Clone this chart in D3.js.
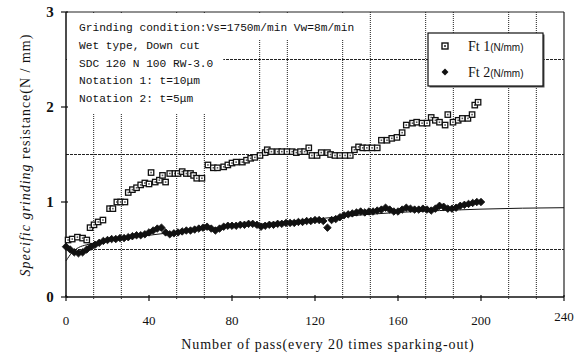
<!DOCTYPE html>
<html>
<head>
<meta charset="utf-8">
<script src="https://cdn.jsdelivr.net/npm/d3@7/dist/d3.min.js"></script>
<style>
  body { margin: 0; background: #fff; }
  svg { display: block; }
  .tick-label { font-family: "Liberation Serif", "DejaVu Serif", serif; fill: #111; }
  .note { font-family: "Liberation Mono", "DejaVu Sans Mono", monospace; font-size: 11.2px; fill: #111; }
</style>
</head>
<body>
<div id="chart"></div>
<script>
// Ft1 (squares) - pass number and resistance
const ft1Pass = [1, 3, 5.5, 8, 10, 11.6, 13.5, 15.5, 17.8, 21, 22.6, 24.5, 26.3, 28.4,
  30, 32, 34, 36, 38, 40, 41, 43, 45, 46.5, 48, 50, 52.5, 54, 56, 58, 60, 61.5, 63, 65.5,
  68.4, 71, 73, 76, 78, 80, 82, 85, 87, 89, 91, 93.5, 96, 97,
  99, 102, 104, 106.5, 109, 111, 113, 115, 117, 118.5, 121, 123, 126, 127.5, 129.6, 132, 134.5, 137, 139, 141, 143,
  145, 147.5, 150, 152, 154.7, 157, 159.5, 162, 164, 167, 169, 171.6, 174, 176, 178, 180, 182.7, 184, 186.5,
  189, 191, 193.7, 195.7, 197, 198.6];
const ft1Val = [0.60, 0.61, 0.63, 0.62, 0.60, 0.73, 0.76, 0.79, 0.81, 0.93, 0.93, 1.00, 1.00, 1.00,
  1.10, 1.13, 1.15, 1.18, 1.20, 1.19, 1.31, 1.21, 1.23, 1.28, 1.21, 1.30, 1.30, 1.30, 1.32, 1.30, 1.30, 1.28, 1.25, 1.25,
  1.39, 1.36, 1.36, 1.37, 1.39, 1.41, 1.42, 1.42, 1.44, 1.46, 1.47, 1.49, 1.52, 1.55,
  1.53, 1.53, 1.53, 1.53, 1.53, 1.52, 1.53, 1.53, 1.57, 1.49, 1.49, 1.52, 1.52, 1.50, 1.49, 1.49, 1.49, 1.49, 1.55, 1.58, 1.57,
  1.57, 1.57, 1.57, 1.65, 1.65, 1.67, 1.68, 1.73, 1.81, 1.83, 1.84, 1.83, 1.83, 1.89, 1.86, 1.84, 1.81, 1.92, 1.84,
  1.86, 1.88, 1.88, 1.92, 2.02, 2.05];

// Ft2 (diamonds) - every 2 passes from 0 to 200
const ft2Pass = d3.range(0, 201, 2);
const ft2Val = [0.53, 0.50, 0.47, 0.46, 0.47, 0.50, 0.53, 0.55, 0.57, 0.59,
  0.60, 0.61, 0.61, 0.62, 0.62, 0.63, 0.64, 0.65, 0.65, 0.66,
  0.68, 0.70, 0.72, 0.73, 0.68, 0.66, 0.67, 0.68, 0.69, 0.70,
  0.70, 0.71, 0.72, 0.73, 0.74, 0.72, 0.70, 0.72, 0.74, 0.75,
  0.75, 0.75, 0.76, 0.76, 0.77, 0.77, 0.76, 0.74, 0.75, 0.76,
  0.76, 0.77, 0.77, 0.78, 0.78, 0.78, 0.79, 0.79, 0.80, 0.80,
  0.81, 0.81, 0.80, 0.73, 0.81, 0.82, 0.84, 0.86, 0.87, 0.88,
  0.89, 0.90, 0.89, 0.90, 0.90, 0.91, 0.92, 0.94, 0.92, 0.90,
  0.90, 0.92, 0.94, 0.93, 0.92, 0.92, 0.93, 0.92, 0.91, 0.93,
  0.96, 0.95, 0.93, 0.93, 0.94, 0.96, 0.97, 0.98, 0.99, 1.00, 1.00];

// thin fitted curve
const trendPass = [0, 3, 6, 10, 20, 40, 60, 80, 100, 120, 140, 160, 180, 200, 220, 240];
const trendVal = [0.38, 0.47, 0.52, 0.55, 0.59, 0.65, 0.70, 0.74, 0.78, 0.82, 0.86, 0.89, 0.91, 0.925, 0.935, 0.94];

const xTicks = [0, 40, 80, 120, 160, 200, 240];
const yTicks = [0, 1, 2, 3];
const xGrid = [13.33, 26.67, 53.33, 66.67, 93.33, 106.67, 133.33, 146.67, 173.33, 186.67, 213.33, 226.67];
const yGrid = [0.5, 1.5, 2.5];

const noteLines = ['Grinding condition:Vs=1750m/min Vw=8m/min', 'Wet type, Down cut',
  'SDC 120 N 100 RW-3.0', 'Notation 1: t=10μm', 'Notation 2: t=5μm'];

const W = 587, H = 357;
const margin = {top: 12, right: 23, bottom: 60, left: 66},
  width = W - margin.left - margin.right,
  height = H - margin.top - margin.bottom;

const svg = d3.select('#chart').append('svg')
  .attr('width', W).attr('height', H);

const g = svg.append('g')
  .attr('transform', 'translate(' + margin.left + ',' + margin.top + ')');

const x = d3.scaleLinear().domain([0, 240]).range([0, width]);
const y = d3.scaleLinear().domain([0, 3]).range([height, 0]);

// grid lines
g.selectAll('.vgrid').data(xGrid).enter().append('line')
  .attr('x1', d => x(d)).attr('x2', d => x(d))
  .attr('y1', 0).attr('y2', height + 3)
  .attr('stroke', '#222').attr('stroke-width', 1)
  .attr('stroke-dasharray', '1,1');

g.selectAll('.hgrid').data(yGrid).enter().append('line')
  .attr('x1', 0).attr('x2', width)
  .attr('y1', d => y(d)).attr('y2', d => y(d))
  .attr('stroke', '#222').attr('stroke-width', 1)
  .attr('stroke-dasharray', '3,1');

// frame
g.append('line').attr('x1', 0).attr('x2', width).attr('y1', 0).attr('y2', 0)
  .attr('stroke', '#222').attr('stroke-width', 1.2);
g.append('line').attr('x1', width).attr('x2', width).attr('y1', 0).attr('y2', height)
  .attr('stroke', '#222').attr('stroke-width', 1.2);

// text box, white background knocks out the grid
const notes = g.append('g').attr('transform', 'translate(13,19)');
const noteText = notes.selectAll('text').data(noteLines).enter().append('text')
  .attr('class', 'note')
  .attr('y', (d, i) => i * 17.8)
  .text(d => d);
const lens = [];
noteText.each(function () { lens.push(this.getComputedTextLength()); });
notes.insert('rect', 'text')
  .attr('x', -12).attr('y', -18).attr('width', lens[0] + 20).attr('height', 27)
  .attr('fill', '#fff');
notes.insert('rect', 'text')
  .attr('x', -12).attr('y', 8).attr('width', d3.max(lens.slice(1)) + 22).attr('height', 75)
  .attr('fill', '#fff');

// axes
const xAxis = g.append('g').attr('transform', 'translate(0,' + height + ')');
xAxis.append('line').attr('x1', 0).attr('x2', width).attr('stroke', '#111').attr('stroke-width', 1.5);
xAxis.selectAll('.tk').data(xTicks).enter().append('line')
  .attr('x1', d => x(d)).attr('x2', d => x(d)).attr('y1', -2).attr('y2', 4)
  .attr('stroke', '#111').attr('stroke-width', 1.2);
xAxis.selectAll('.lbl').data(xTicks).enter().append('text')
  .attr('class', 'tick-label')
  .attr('x', d => x(d)).attr('y', d => d === 240 ? 24 : 28)
  .attr('text-anchor', 'middle').attr('font-size', '13px')
  .text(d => d);

const yAxis = g.append('g');
yAxis.append('line').attr('y1', 0).attr('y2', height).attr('stroke', '#111').attr('stroke-width', 1.5);
yAxis.selectAll('.tk').data(yTicks).enter().append('line')
  .attr('y1', d => y(d)).attr('y2', d => y(d)).attr('x1', -5).attr('x2', 2)
  .attr('stroke', '#111').attr('stroke-width', 1.2);
yAxis.selectAll('.lbl').data(yTicks).enter().append('text')
  .attr('class', 'tick-label')
  .attr('x', -16).attr('y', d => y(d) + 5)
  .attr('text-anchor', 'middle').attr('font-size', '15px').attr('font-weight', 'bold')
  .text(d => d);

// fitted curve
g.append('path')
  .datum(trendPass.map((p, i) => [p, trendVal[i]]))
  .attr('fill', 'none').attr('stroke', '#111').attr('stroke-width', 1)
  .attr('d', d3.line().x(d => x(d[0])).y(d => y(d[1])).curve(d3.curveMonotoneX));

// Ft2 diamonds
const diamond = d3.symbol().type(d3.symbolSquare).size(28);
g.selectAll('.ft2').data(ft2Pass.map((p, i) => [p, ft2Val[i]])).enter().append('path')
  .attr('d', diamond)
  .attr('transform', d => 'translate(' + x(d[0]) + ',' + y(d[1]) + ') rotate(45)')
  .attr('fill', '#111').attr('stroke', '#111').attr('stroke-width', 0.8);

// Ft1 squares
const sq = g.selectAll('.ft1').data(ft1Pass.map((p, i) => [p, ft1Val[i]])).enter().append('g')
  .attr('transform', d => 'translate(' + x(d[0]) + ',' + y(d[1]) + ')');
sq.append('rect').attr('x', -2.7).attr('y', -2.7).attr('width', 5.4).attr('height', 5.4)
  .attr('fill', '#fff').attr('stroke', '#111').attr('stroke-width', 1.3);
sq.append('rect').attr('x', -0.8).attr('y', -0.8).attr('width', 1.6).attr('height', 1.6)
  .attr('fill', '#555');

// legend
const legend = svg.append('g').attr('transform', 'translate(428,33)');
legend.append('rect').attr('x', 1.5).attr('y', 1.5).attr('width', 115).attr('height', 53).attr('fill', '#555');
legend.append('rect').attr('width', 115).attr('height', 53)
  .attr('fill', '#fff').attr('stroke', '#111').attr('stroke-width', 1.2);
legend.append('rect').attr('x', 14).attr('y', 10).attr('width', 6).attr('height', 6)
  .attr('fill', '#fff').attr('stroke', '#111').attr('stroke-width', 1.4);
legend.append('rect').attr('x', 16).attr('y', 12).attr('width', 2).attr('height', 2).attr('fill', '#555');
legend.append('path').attr('d', d3.symbol().type(d3.symbolSquare).size(24))
  .attr('transform', 'translate(17,39) rotate(45)').attr('fill', '#111');
const legLabels = ['Ft 1', 'Ft 2'];
legLabels.forEach((t, i) => {
  const tx = legend.append('text').attr('x', 40).attr('y', 18 + i * 26)
    .attr('font-family', '"Liberation Serif", serif').attr('font-size', '14px').attr('fill', '#111');
  tx.append('tspan').text(t);
  tx.append('tspan').attr('font-size', '10px').attr('font-family', '"Liberation Sans", sans-serif').text('(N/mm)');
});

// axis titles
svg.append('text')
  .attr('x', 328).attr('y', 349)
  .attr('text-anchor', 'middle')
  .attr('font-family', '"Liberation Serif", serif').attr('font-size', '14px')
  .attr('letter-spacing', '0.9px').attr('fill', '#111')
  .text('Number of pass(every 20 times sparking-out)');

const yt = svg.append('text')
  .attr('transform', 'translate(30,155) rotate(-90)')
  .attr('text-anchor', 'middle')
  .attr('font-family', '"Liberation Serif", serif').attr('font-size', '14px')
  .attr('letter-spacing', '1px').attr('fill', '#111');
yt.append('tspan').attr('font-style', 'italic').text('Specific   grinding');
yt.append('tspan').text(' resistance(N / mm)');
</script>
</body>
</html>
